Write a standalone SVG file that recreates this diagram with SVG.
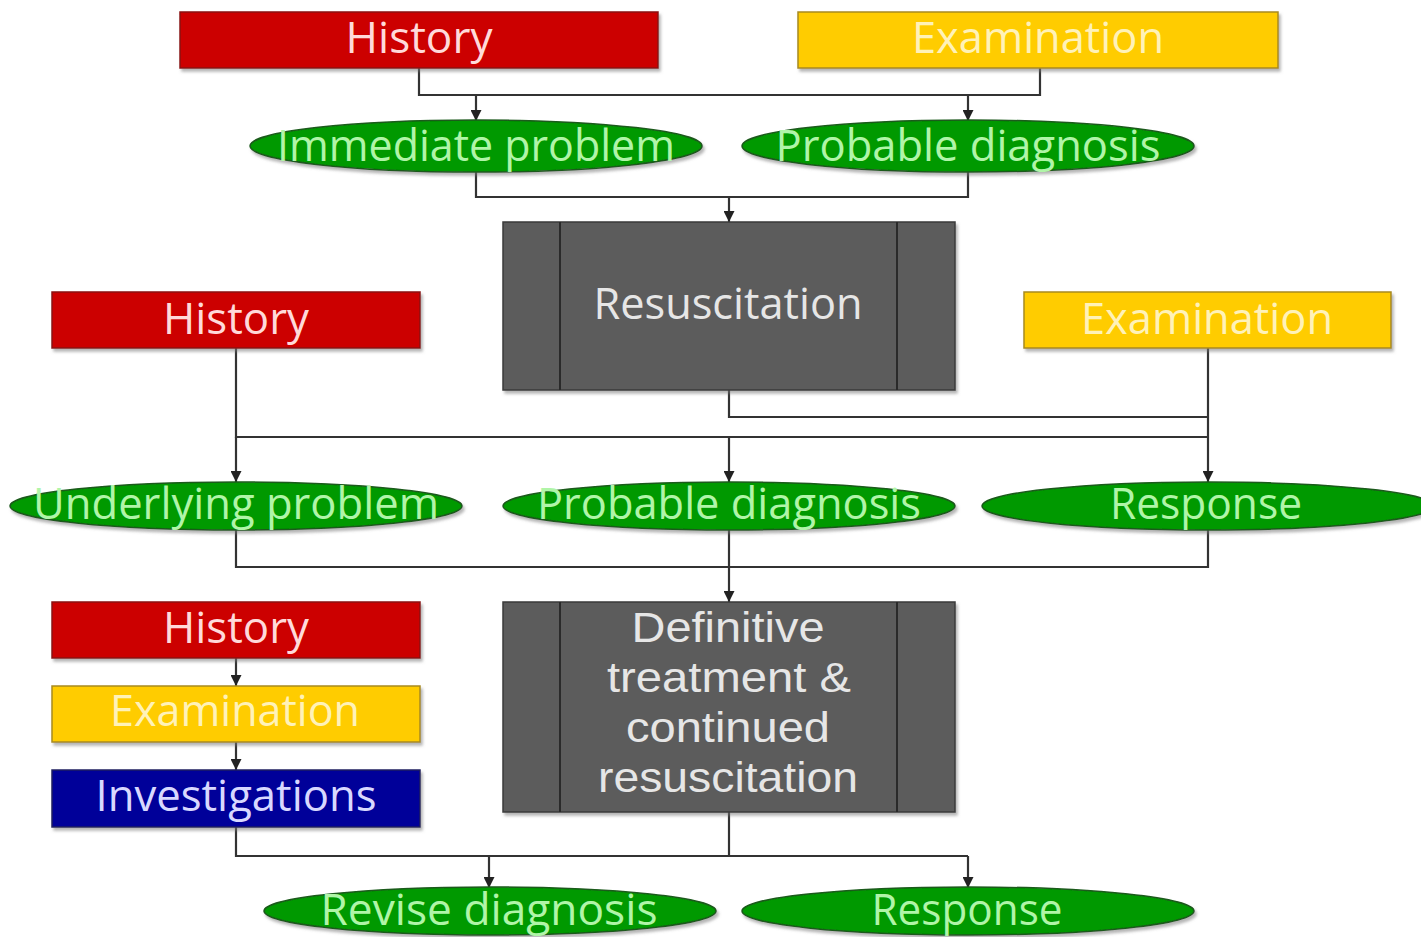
<svg xmlns="http://www.w3.org/2000/svg" width="1421" height="937" viewBox="0 0 1421 937">
<defs>
<filter id="sh" x="-5%" y="-10%" width="115%" height="130%">
<feDropShadow dx="2" dy="3" stdDeviation="1.5" flood-color="#777" flood-opacity="0.55"/>
</filter>
<marker id="ah" viewBox="0 0 10 10" refX="10" refY="5" markerWidth="11" markerHeight="11" markerUnits="userSpaceOnUse" orient="auto">
<path d="M0,0 L10,5 L0,10 z" fill="#222"/>
</marker>
<style>
.red{fill:#cc0000;stroke:#8a1010;stroke-width:1.5;filter:url(#sh)}
.yel{fill:#ffcc00;stroke:#a88a20;stroke-width:1.5;filter:url(#sh)}
.blu{fill:#000099;stroke:#202060;stroke-width:1.5;filter:url(#sh)}
.grn{fill:#009900;stroke:#1a5a1a;stroke-width:1.5;filter:url(#sh)}
.gry{fill:#5c5c5c;stroke:#3a3a3a;stroke-width:1.5;filter:url(#sh)}
.div{stroke:#2a2a2a;stroke-width:2}
text{font-family:"Open Sans","Liberation Sans",sans-serif;font-size:44px;text-anchor:middle}
text.ml{font-family:"Liberation Sans",Arial,sans-serif;font-size:42px}
.tr{fill:#ffdada}
.ty{fill:#fff2b8}
.tb{fill:#d8d8ff}
.tg{fill:#b0f5a8}
.tk{fill:#e6e6e6}
.c{fill:none;stroke:#333;stroke-width:2.2}
.a{fill:none;stroke:#333;stroke-width:2.2;marker-end:url(#ah)}
</style>
</defs>
<rect width="1421" height="937" fill="#ffffff"/>

<g id="connectors">
<path class="c" d="M419,68 V95 H1040 V68"/>
<path class="a" d="M476,95 V121"/>
<path class="a" d="M968,95 V121"/>
<path class="c" d="M476,172 V197 H968 V172"/>
<path class="a" d="M729,197 V222"/>
<path class="c" d="M729,390 V417 H1208"/>
<path class="c" d="M236,348 V437 H1208"/>
<path class="a" d="M236,437 V482"/>
<path class="a" d="M729,437 V482"/>
<path class="a" d="M1208,348 V482"/>
<path class="c" d="M236,530 V567 H1208 V530"/>
<path class="c" d="M729,530 V567"/>
<path class="a" d="M729,567 V602"/>
<path class="a" d="M236,658 V686"/>
<path class="a" d="M236,742 V770"/>
<path class="c" d="M236,827 V856 H968"/>
<path class="c" d="M729,812 V856"/>
<path class="a" d="M489,856 V888"/>
<path class="a" d="M968,856 V888"/>
</g>

<g id="history1"><rect class="red" x="180" y="12" width="478" height="56"/><text class="tr" x="419" y="53" textLength="147" lengthAdjust="spacingAndGlyphs">History</text></g>
<g id="exam1"><rect class="yel" x="798" y="12" width="480" height="56"/><text class="ty" x="1038" y="53" textLength="252" lengthAdjust="spacingAndGlyphs">Examination</text></g>
<g id="immediate"><ellipse class="grn" cx="476" cy="146" rx="226" ry="26"/><text class="tg" x="476" y="161" textLength="398" lengthAdjust="spacingAndGlyphs">Immediate problem</text></g>
<g id="probable1"><ellipse class="grn" cx="968" cy="146" rx="226" ry="26"/><text class="tg" x="968" y="161" textLength="385" lengthAdjust="spacingAndGlyphs">Probable diagnosis</text></g>
<g id="resus"><rect class="gry" x="503" y="222" width="452" height="168"/><line class="div" x1="560" y1="222" x2="560" y2="390"/><line class="div" x1="897" y1="222" x2="897" y2="390"/><text class="tk" x="728" y="319" textLength="269" lengthAdjust="spacingAndGlyphs">Resuscitation</text></g>
<g id="history2"><rect class="red" x="52" y="292" width="368" height="56"/><text class="tr" x="236" y="334" textLength="146" lengthAdjust="spacingAndGlyphs">History</text></g>
<g id="exam2"><rect class="yel" x="1024" y="292" width="367" height="56"/><text class="ty" x="1207" y="334" textLength="252" lengthAdjust="spacingAndGlyphs">Examination</text></g>
<g id="underlying"><ellipse class="grn" cx="236" cy="506" rx="226" ry="24"/><text class="tg" x="236" y="519" textLength="406" lengthAdjust="spacingAndGlyphs">Underlying problem</text></g>
<g id="probable2"><ellipse class="grn" cx="729" cy="506" rx="226" ry="24"/><text class="tg" x="729" y="519" textLength="384" lengthAdjust="spacingAndGlyphs">Probable diagnosis</text></g>
<g id="response1"><ellipse class="grn" cx="1208" cy="506" rx="226" ry="24"/><text class="tg" x="1206" y="519" textLength="192" lengthAdjust="spacingAndGlyphs">Response</text></g>
<g id="definitive"><rect class="gry" x="503" y="602" width="452" height="210"/><line class="div" x1="560" y1="602" x2="560" y2="812"/><line class="div" x1="897" y1="602" x2="897" y2="812"/>
<text class="tk ml" x="728" y="642" textLength="193" lengthAdjust="spacingAndGlyphs">Definitive</text>
<text class="tk ml" x="729" y="692" textLength="244" lengthAdjust="spacingAndGlyphs">treatment &amp;</text>
<text class="tk ml" x="728" y="742" textLength="204" lengthAdjust="spacingAndGlyphs">continued</text>
<text class="tk ml" x="728" y="792" textLength="260" lengthAdjust="spacingAndGlyphs">resuscitation</text></g>
<g id="history3"><rect class="red" x="52" y="602" width="368" height="56"/><text class="tr" x="236" y="643" textLength="146" lengthAdjust="spacingAndGlyphs">History</text></g>
<g id="exam3"><rect class="yel" x="52" y="686" width="368" height="56"/><text class="ty" x="235" y="726" textLength="250" lengthAdjust="spacingAndGlyphs">Examination</text></g>
<g id="invest"><rect class="blu" x="52" y="770" width="368" height="57"/><text class="tb" x="236" y="811" textLength="281" lengthAdjust="spacingAndGlyphs">Investigations</text></g>
<g id="revise"><ellipse class="grn" cx="490" cy="911" rx="226" ry="24"/><text class="tg" x="489" y="925" textLength="337" lengthAdjust="spacingAndGlyphs">Revise diagnosis</text></g>
<g id="response2"><ellipse class="grn" cx="968" cy="911" rx="226" ry="24"/><text class="tg" x="967" y="925" textLength="191" lengthAdjust="spacingAndGlyphs">Response</text></g>
</svg>
